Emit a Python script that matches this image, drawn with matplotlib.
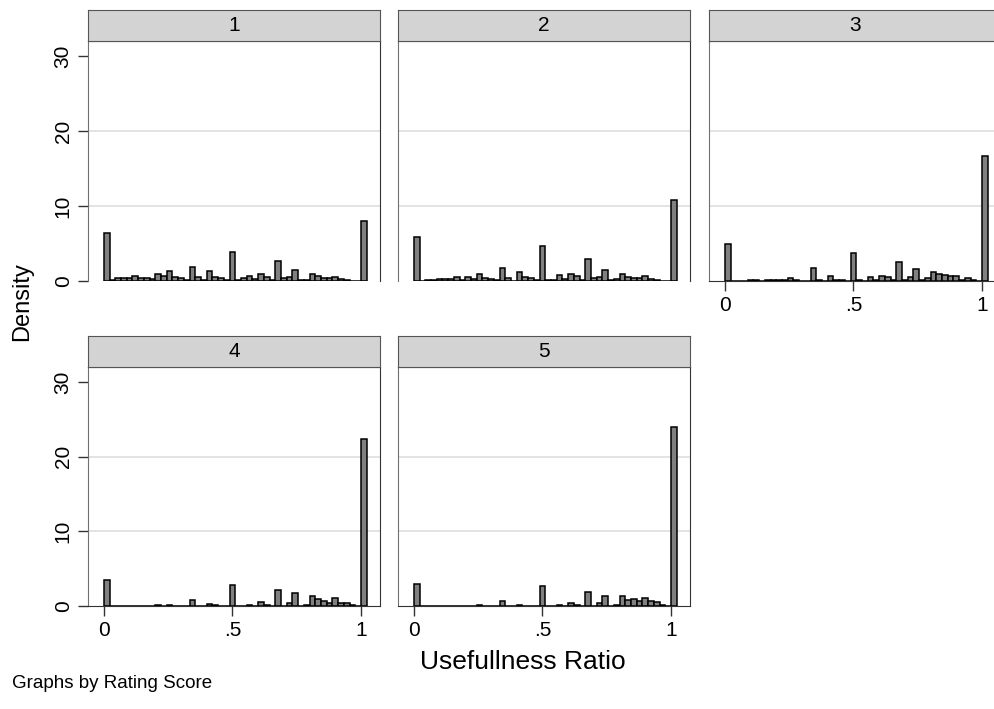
import numpy as np
import matplotlib
matplotlib.use('Agg')
import matplotlib.pyplot as plt

plt.rcParams['font.family'] = ['Liberation Sans', 'DejaVu Sans']

# histogram bins: 46 bins of width 1/45 starting at 0 (Stata-style)
n_bins = 46
bin_width = 1 / 45
edges = np.arange(n_bins) * bin_width

# density per bin, rating score 1..5
score1 = [6.36, 0.13, 0.35, 0.4, 0.4, 0.67, 0.4, 0.4, 0.3, 0.98, 0.67, 1.33, 0.53, 0.4, 0.2, 1.9,
          0.53, 0.2, 1.33, 0.58, 0.4, 0.1, 3.9, 0.2, 0.35, 0.67, 0.27, 0.93, 0.53, 0.13, 2.62, 0.44,
          0.55, 1.45, 0.13, 0.2, 0.95, 0.62, 0.35, 0.4, 0.5, 0.27, 0.13, 0.0, 0.0, 8.0]
score2 = [5.9, 0.05, 0.1, 0.15, 0.25, 0.3, 0.3, 0.5, 0.15, 0.6, 0.25, 0.9, 0.35, 0.25, 0.15, 1.8,
          0.35, 0.05, 1.2, 0.5, 0.35, 0.1, 4.67, 0.15, 0.15, 0.75, 0.25, 0.95, 0.65, 0.1, 2.9, 0.35,
          0.6, 1.5, 0.1, 0.3, 0.9, 0.6, 0.4, 0.4, 0.65, 0.25, 0.15, 0.05, 0.0, 10.75]
score3 = [5.0, 0.05, 0.05, 0.05, 0.1, 0.2, 0.05, 0.15, 0.1, 0.1, 0.15, 0.45, 0.2, 0.05, 0.05, 1.8,
          0.2, 0.05, 0.7, 0.15, 0.15, 0.05, 3.8, 0.15, 0.05, 0.5, 0.1, 0.7, 0.5, 0.1, 2.6, 0.15,
          0.55, 1.55, 0.1, 0.45, 1.2, 1.0, 0.8, 0.7, 0.7, 0.1, 0.45, 0.1, 0.03, 16.7]
score4 = [3.5, 0.03, 0.03, 0.03, 0.03, 0.03, 0.03, 0.03, 0.03, 0.1, 0.03, 0.2, 0.03, 0.03, 0.03, 0.75,
          0.05, 0.03, 0.3, 0.1, 0.03, 0.02, 2.85, 0.02, 0.03, 0.2, 0.05, 0.6, 0.1, 0.03, 2.1, 0.05,
          0.35, 1.8, 0.05, 0.2, 1.35, 1.0, 0.7, 0.45, 1.05, 0.45, 0.45, 0.1, 0.02, 22.4]
score5 = [2.95, 0.0, 0.0, 0.0, 0.0, 0.0, 0.0, 0.0, 0.0, 0.0, 0.0, 0.15, 0.0, 0.0, 0.0, 0.7,
          0.0, 0.0, 0.15, 0.0, 0.0, 0.0, 2.7, 0.0, 0.0, 0.15, 0.0, 0.45, 0.1, 0.0, 1.9, 0.0,
          0.4, 1.35, 0.0, 0.15, 1.35, 0.8, 0.9, 0.7, 1.1, 0.67, 0.55, 0.15, 0.0, 24.0]
panel_titles = ['1', '2', '3', '4', '5']
xtick_vals = [0, 0.5, 1]
xtick_labels = ['0', '.5', '1']
ytick_vals = [0, 10, 20, 30]

W, H = 994, 709
fig = plt.figure(figsize=(W / 100, H / 100), dpi=100)

# panel plot-region boxes in pixels: (left, top, width, height)
boxes = [(88, 41, 292, 240), (398, 41, 292, 240), (709, 41, 292, 240),
         (88, 367, 292, 239), (398, 367, 292, 239)]
show_y = [True, False, False, True, False]
show_x = [False, False, True, True, True]
strip_h = 31
data = [score1, score2, score3, score4, score5]

for i, (l, t, w, h) in enumerate(boxes):
    ax = fig.add_axes([l / W, (H - t - h) / H, w / W, h / H])
    ax.bar(edges, data[i], width=bin_width, align='edge', color='#808080',
           edgecolor='black', linewidth=1.1, zorder=3)
    ax.set_xlim(-0.062, 1.074)
    ax.set_ylim(0, 32)
    for g in [10, 20]:
        ax.axhline(g, color='#dedede', lw=1.2, zorder=1)
    for s in ['top', 'right']:
        ax.spines[s].set_color('#333333')
    ax.spines['left'].set_color('#707070')
    ax.spines['bottom'].set_color('#333333')
    ax.spines['bottom'].set_visible(show_x[i])
    ax.tick_params(labelsize=15, length=7, width=1, color='#333333', direction='out')
    if show_y[i]:
        ax.set_yticks(ytick_vals)
        ax.set_yticklabels([str(v) for v in ytick_vals], rotation=90, va='center')
        ax.tick_params(axis='y', pad=4)
    else:
        ax.set_yticks([])
    if show_x[i]:
        ax.set_xticks(xtick_vals)
        ax.set_xticklabels(xtick_labels)
    else:
        ax.set_xticks([])
    # strip header
    sax = fig.add_axes([l / W, (H - t) / H, w / W, strip_h / H])
    sax.set_facecolor('#d3d3d3')
    sax.set_xticks([])
    sax.set_yticks([])
    for s in sax.spines.values():
        s.set_color('#555555')
    sax.text(0.5, 0.5, panel_titles[i], ha='center', va='center', fontsize=15,
             transform=sax.transAxes)

fig.text(22 / W, 1 - 302 / H, 'Density', rotation=90, ha='center', va='center', fontsize=17)
fig.text(523 / W, 1 - 662 / H, 'Usefullness Ratio', ha='center', va='center', fontsize=19)
fig.text(12 / W, 1 - 684 / H, 'Graphs by Rating Score', ha='left', va='center', fontsize=13.5)

fig.savefig('out.png', dpi=100, facecolor='white')
